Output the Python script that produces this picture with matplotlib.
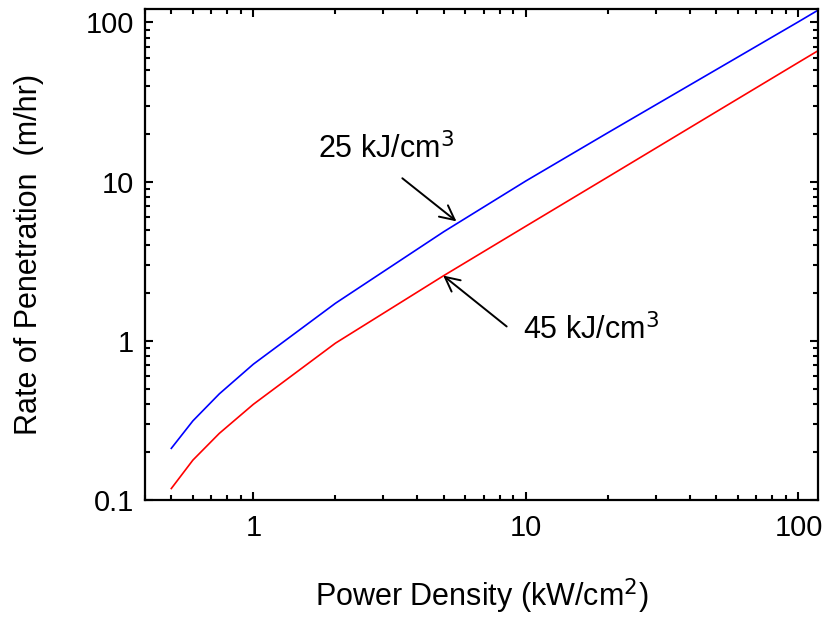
import matplotlib
matplotlib.use("Agg")
import matplotlib.pyplot as plt
from matplotlib.ticker import FixedLocator, LogLocator, NullFormatter

plt.rcParams['font.family'] = ['Liberation Sans', 'DejaVu Sans']

# data (log-log)
power_density = [0.5, 0.6, 0.75, 1, 2, 5, 10, 20, 50, 100, 120]
rop_25 = [0.211, 0.314, 0.464, 0.713, 1.72, 4.85, 10.1, 20.3, 50.6, 101, 121.5]
rop_45 = [0.118, 0.178, 0.262, 0.399, 0.966, 2.57, 5.25, 10.7, 27.5, 56.1, 67.6]

x_ticks = [1, 10, 100]
x_tick_labels = ["1", "10", "100"]
y_ticks = [0.1, 1, 10, 100]
y_tick_labels = ["0.1", "1", "10", "100"]

fig = plt.figure(figsize=(8.28, 6.18), dpi=100)
ax = fig.add_axes([0.175, 0.191, 0.813, 0.794])

ax.plot(power_density, rop_25, color="blue", lw=1.2)
ax.plot(power_density, rop_45, color="red", lw=1.2)

ax.set_xscale("log")
ax.set_yscale("log")
ax.set_xlim(0.4, 118)
ax.set_ylim(0.1, 121)

ax.xaxis.set_major_locator(FixedLocator(x_ticks))
ax.set_xticklabels(x_tick_labels)
ax.yaxis.set_major_locator(FixedLocator(y_ticks))
ax.set_yticklabels(y_tick_labels)
ax.xaxis.set_minor_locator(LogLocator(base=10, subs=range(2, 10)))
ax.yaxis.set_minor_locator(LogLocator(base=10, subs=range(2, 10)))
ax.xaxis.set_minor_formatter(NullFormatter())
ax.yaxis.set_minor_formatter(NullFormatter())

ax.tick_params(which="both", direction="in", top=True, right=True, width=1.5)
ax.tick_params(which="major", length=6, labelsize=21)
ax.tick_params(axis="x", which="major", pad=10)
ax.tick_params(axis="y", which="major", pad=8)
ax.tick_params(which="minor", length=3.5)
for s in ax.spines.values():
    s.set_linewidth(1.6)

ax.set_xlabel("Power Density (kW/cm$^2$)", fontsize=22, labelpad=25)
ax.set_ylabel("Rate of Penetration  (m/hr)", fontsize=22, labelpad=30)

arrow = dict(arrowstyle="->", lw=1.4, color="black", mutation_scale=26, shrinkA=0, shrinkB=0)
ax.text(1.72, 14.0, "25 kJ/cm$^3$", fontsize=22, ha="left", va="baseline")
ax.annotate("", xy=(5.56, 5.63), xytext=(3.52, 10.5), arrowprops=dict(arrow))
ax.annotate("", xy=(4.97, 2.57), xytext=(8.5, 1.23), arrowprops=dict(arrow))
ax.text(9.75, 1.02, "45 kJ/cm$^3$", fontsize=22, ha="left", va="baseline")

fig.savefig("out.png", dpi=100)
